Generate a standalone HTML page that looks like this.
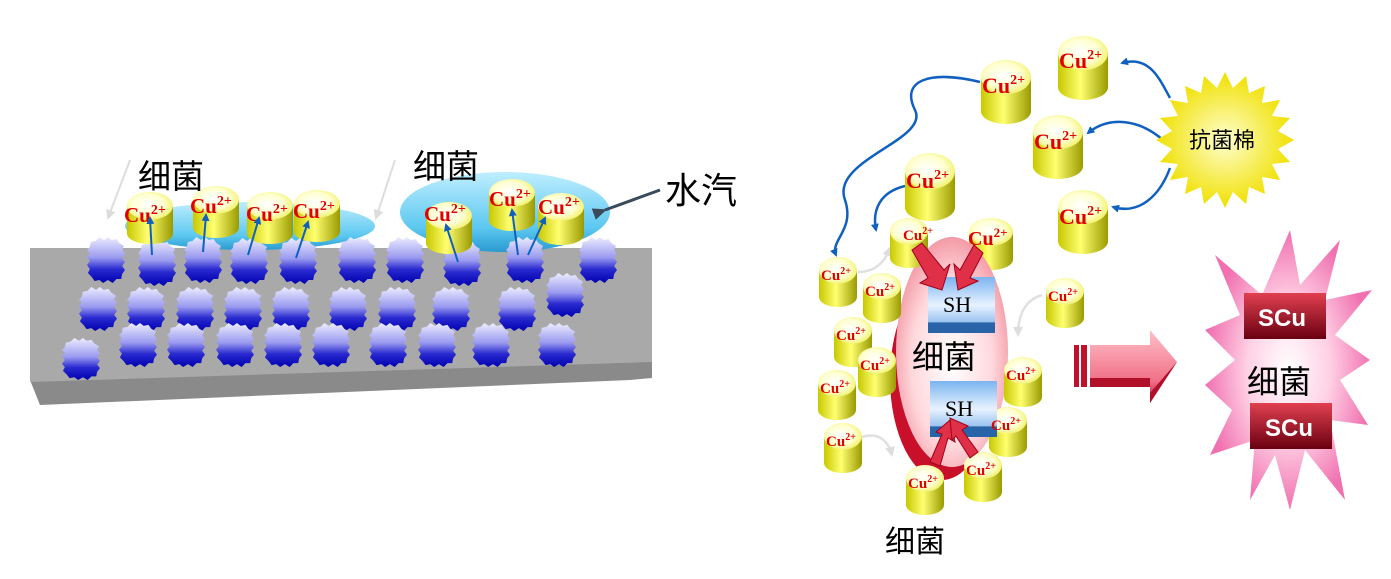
<!DOCTYPE html>
<html><head><meta charset="utf-8"><style>
html,body{margin:0;padding:0;background:#fff;}
svg{display:block;}
.cu{font-family:"Liberation Serif",serif;font-weight:bold;fill:#e00000;}
.cn{font-family:"Liberation Sans","Noto Sans CJK SC",sans-serif;fill:#000;}
</style></head><body>
<svg width="1391" height="579" viewBox="0 0 1391 579" xmlns="http://www.w3.org/2000/svg">
<defs>
<linearGradient id="yb" x1="0" x2="1" y1="0" y2="0">
<stop offset="0" stop-color="#c8c800"/><stop offset="0.45" stop-color="#ffff70"/><stop offset="1" stop-color="#9a9a00"/></linearGradient>
<radialGradient id="yt" cx="0.45" cy="0.45" r="0.6"><stop offset="0" stop-color="#ffffff"/><stop offset="0.6" stop-color="#ffffd0"/><stop offset="1" stop-color="#f0f060"/></radialGradient>
<symbol id="cyl" viewBox="0 0 50 60" preserveAspectRatio="none">
<path d="M0 16 L0 48 A25 12 0 0 0 50 48 L50 16 Z" fill="url(#yb)"/>
<ellipse cx="25" cy="16" rx="25" ry="16" fill="url(#yt)"/>
</symbol>
<linearGradient id="bb" x1="0" x2="0" y1="0" y2="1">
<stop offset="0" stop-color="#ececff"/><stop offset="0.45" stop-color="#9a9af0"/><stop offset="0.7" stop-color="#2a2ad0"/><stop offset="1" stop-color="#0000b0"/></linearGradient>
<symbol id="blu" viewBox="0 0 40 46" preserveAspectRatio="none">
<path d="M3 10 L0 13 L3 16 L0 20 L3 24 L0 28 L3 32 L1 36 L5 40 L8 44 L13 43 L17 46 L22 43 L27 46 L31 42 L36 42 L37 37 L40 33 L37 29 L40 25 L37 21 L40 17 L37 13 L39 9 L34 6 L31 2 L26 3 L22 0 L18 3 L13 0 L9 4 L4 5 Z" fill="url(#bb)"/>
</symbol>
<linearGradient id="wat" x1="0" x2="0" y1="0" y2="1">
<stop offset="0" stop-color="#bfeeff"/><stop offset="0.7" stop-color="#5cc8f0"/><stop offset="1" stop-color="#2a9ad0"/></linearGradient>
<radialGradient id="bac" cx="0.5" cy="0.55" r="0.6"><stop offset="0" stop-color="#ffffff"/><stop offset="0.6" stop-color="#ffd8dc"/><stop offset="1" stop-color="#f08a98"/></radialGradient>
<linearGradient id="sh" x1="0" x2="0" y1="0" y2="1">
<stop offset="0" stop-color="#7ab4f0"/><stop offset="0.5" stop-color="#e8f2ff"/><stop offset="0.8" stop-color="#9cc4f0"/><stop offset="0.82" stop-color="#2a64a8"/><stop offset="1" stop-color="#2a64a8"/></linearGradient>
<radialGradient id="star" cx="0.5" cy="0.5" r="0.5"><stop offset="0" stop-color="#ffffd0"/><stop offset="1" stop-color="#f0e000"/></radialGradient>
<radialGradient id="pink" cx="0.5" cy="0.5" r="0.5"><stop offset="0" stop-color="#ffffff"/><stop offset="0.5" stop-color="#ffd0e4"/><stop offset="1" stop-color="#f070b0"/></radialGradient>
<linearGradient id="arr" x1="0" x2="0" y1="0" y2="1"><stop offset="0" stop-color="#ffc0c8"/><stop offset="0.7" stop-color="#f07088"/><stop offset="1" stop-color="#c0102a"/></linearGradient>
<linearGradient id="scu" x1="0" x2="0" y1="0" y2="1"><stop offset="0" stop-color="#e04050"/><stop offset="1" stop-color="#6a0010"/></linearGradient>
<marker id="ab" markerWidth="8" markerHeight="8" refX="6" refY="4" orient="auto" markerUnits="userSpaceOnUse"><path d="M0 0 L8 4 L0 8 Z" fill="#1060c0"/></marker>
<marker id="ag" markerWidth="10" markerHeight="10" refX="8" refY="5" orient="auto" markerUnits="userSpaceOnUse"><path d="M0 0 L10 5 L0 10 Z" fill="#dddddd"/></marker>
<marker id="ad" markerWidth="14" markerHeight="12" refX="2" refY="6" orient="auto" markerUnits="userSpaceOnUse"><path d="M14 0 L0 6 L14 12 Z" fill="#3a4a5a"/></marker>
</defs>

<polygon points="30,380 652,360 652,378 630,380 40,405" fill="#8a8a8a"/>
<polygon points="30,248 652,248 652,362 30,382" fill="#a9a9a9"/>
<ellipse cx="250" cy="226" rx="125" ry="24" fill="url(#wat)"/>
<ellipse cx="505" cy="212" rx="105" ry="40" fill="url(#wat)"/>

<g>
<use href="#blu" x="87" y="237" width="38" height="46"/><use href="#blu" x="138" y="240" width="38" height="46"/>
<use href="#blu" x="184" y="237" width="38" height="46"/><use href="#blu" x="230" y="238" width="38" height="46"/>
<use href="#blu" x="279" y="238" width="38" height="46"/><use href="#blu" x="338" y="237" width="38" height="46"/>
<use href="#blu" x="386" y="237" width="38" height="46"/><use href="#blu" x="443" y="240" width="38" height="46"/>
<use href="#blu" x="506" y="237" width="38" height="46"/><use href="#blu" x="579" y="237" width="38" height="46"/>
<use href="#blu" x="79" y="287" width="38" height="44"/><use href="#blu" x="127" y="287" width="38" height="44"/>
<use href="#blu" x="176" y="287" width="38" height="44"/><use href="#blu" x="224" y="287" width="38" height="44"/>
<use href="#blu" x="272" y="287" width="38" height="44"/><use href="#blu" x="329" y="287" width="38" height="44"/>
<use href="#blu" x="378" y="287" width="38" height="44"/><use href="#blu" x="432" y="287" width="38" height="44"/>
<use href="#blu" x="498" y="287" width="38" height="44"/><use href="#blu" x="546" y="273" width="38" height="44"/>
<use href="#blu" x="62" y="338" width="38" height="42"/><use href="#blu" x="119" y="323" width="38" height="44"/>
<use href="#blu" x="167" y="323" width="38" height="44"/><use href="#blu" x="216" y="323" width="38" height="44"/>
<use href="#blu" x="264" y="323" width="38" height="44"/><use href="#blu" x="312" y="323" width="38" height="44"/>
<use href="#blu" x="369" y="323" width="38" height="44"/><use href="#blu" x="418" y="323" width="38" height="44"/>
<use href="#blu" x="472" y="323" width="38" height="44"/><use href="#blu" x="538" y="323" width="38" height="44"/>
</g>

<g>
<use href="#cyl" x="127" y="192" width="46" height="52"/>
<use href="#cyl" x="193" y="186" width="46" height="52"/>
<use href="#cyl" x="247" y="192" width="46" height="52"/>
<use href="#cyl" x="294" y="190" width="46" height="52"/>
<use href="#cyl" x="426" y="202" width="46" height="52"/>
<use href="#cyl" x="489" y="179" width="46" height="52"/>
<use href="#cyl" x="538" y="193" width="46" height="52"/>
</g>
<g class="cu" font-size="21">
<text x="124" y="222">Cu<tspan font-size="14" dy="-8">2+</tspan></text>
<text x="190" y="213">Cu<tspan font-size="14" dy="-8">2+</tspan></text>
<text x="246" y="221">Cu<tspan font-size="14" dy="-8">2+</tspan></text>
<text x="293" y="218">Cu<tspan font-size="14" dy="-8">2+</tspan></text>
<text x="424" y="221">Cu<tspan font-size="14" dy="-8">2+</tspan></text>
<text x="489" y="206">Cu<tspan font-size="14" dy="-8">2+</tspan></text>
<text x="538" y="214">Cu<tspan font-size="14" dy="-8">2+</tspan></text>
</g>
<g stroke="#1060c0" stroke-width="2" fill="none" marker-end="url(#ab)">
<line x1="152" y1="255" x2="150" y2="218"/><line x1="203" y1="252" x2="206" y2="215"/>
<line x1="248" y1="255" x2="259" y2="218"/><line x1="296" y1="258" x2="308" y2="222"/>
<line x1="458" y1="262" x2="446" y2="225"/><line x1="518" y1="255" x2="512" y2="210"/>
<line x1="528" y1="255" x2="545" y2="218"/>
</g>
<g stroke="#dddddd" stroke-width="2" fill="none" marker-end="url(#ag)">
<line x1="130" y1="160" x2="108" y2="218"/><line x1="395" y1="160" x2="376" y2="218"/>
</g>
<line x1="660" y1="190" x2="605" y2="210" stroke="#3a4a5a" stroke-width="3" marker-end="url(#ad)"/>
<text class="cn" x="138" y="188" font-size="33">细菌</text>
<text class="cn" x="413" y="178" font-size="33">细菌</text>
<text class="cn" x="665" y="203" font-size="36">水汽</text>

<g stroke="#1060c0" stroke-width="2.5" fill="none" marker-end="url(#ab)">
<path d="M980,82 C930,70 900,80 915,110 C930,140 830,160 845,200 C855,230 830,240 836,255"/>
<path d="M1170,98 C1160,80 1150,55 1122,63"/>
<path d="M1163,140 C1140,120 1110,115 1088,133"/>
<path d="M1170,168 C1160,195 1140,215 1113,207"/>
<path d="M905,186 C880,192 872,210 876,230"/>
</g>
<g stroke="#e0e0e0" stroke-width="2.5" fill="none" marker-end="url(#ag)">
<path d="M858,272 C875,272 885,262 890,248"/>
<path d="M1042,295 C1025,300 1018,315 1018,335"/>
<path d="M862,437 C878,432 888,440 892,455"/>
</g>

<polygon fill="url(#star)" points="1225,72 1233,88 1246,76 1249,93 1265,86 1262,103 1280,100 1272,116 1290,118 1278,131 1294,140 1278,149 1290,162 1272,164 1280,180 1262,177 1265,194 1249,187 1246,204 1233,192 1225,208 1217,192 1204,204 1201,187 1185,194 1188,177 1170,180 1178,164 1160,162 1172,149 1156,140 1172,131 1160,118 1178,116 1170,100 1188,103 1185,86 1201,93 1204,76 1217,88"/>
<text class="cn" x="1189" y="148" font-size="22">抗菌棉</text>

<g>
<use href="#cyl" x="981" y="60" width="50" height="64"/>
<use href="#cyl" x="1058" y="36" width="50" height="64"/>
<use href="#cyl" x="1033" y="115" width="50" height="64"/>
<use href="#cyl" x="1058" y="190" width="50" height="64"/>
<use href="#cyl" x="905" y="153" width="50" height="68"/>
<use href="#cyl" x="969" y="218" width="44" height="52"/>
</g>
<g class="cu" font-size="22">
<text x="982" y="93">Cu<tspan font-size="14" dy="-9">2+</tspan></text>
<text x="1059" y="68">Cu<tspan font-size="14" dy="-9">2+</tspan></text>
<text x="1034" y="149">Cu<tspan font-size="14" dy="-9">2+</tspan></text>
<text x="1059" y="224">Cu<tspan font-size="14" dy="-9">2+</tspan></text>
<text x="906" y="188">Cu<tspan font-size="14" dy="-9">2+</tspan></text>
<text x="968" y="245" font-size="20">Cu<tspan font-size="13" dy="-8">2+</tspan></text>
</g>

<ellipse cx="942" cy="378" rx="52" ry="102" fill="#c8102a"/>
<ellipse cx="952" cy="352" rx="56" ry="115" fill="url(#bac)"/>

<g>
<use href="#cyl" x="890" y="218" width="38" height="50"/>
<use href="#cyl" x="819" y="257" width="38" height="50"/>
<use href="#cyl" x="863" y="273" width="38" height="50"/>
<use href="#cyl" x="834" y="317" width="38" height="50"/>
<use href="#cyl" x="858" y="347" width="38" height="50"/>
<use href="#cyl" x="818" y="370" width="38" height="50"/>
<use href="#cyl" x="824" y="423" width="38" height="50"/>
<use href="#cyl" x="1046" y="278" width="38" height="50"/>
<use href="#cyl" x="1004" y="357" width="38" height="50"/>
<use href="#cyl" x="989" y="407" width="38" height="50"/>
<use href="#cyl" x="964" y="452" width="38" height="50"/>
<use href="#cyl" x="906" y="465" width="38" height="50"/>
</g>

<rect x="928" y="277" width="67" height="56" fill="url(#sh)"/>
<rect x="930" y="381" width="67" height="56" fill="url(#sh)"/>
<text x="943" y="312" font-family="Liberation Serif,serif" font-size="22" fill="#000">SH</text>
<text x="945" y="416" font-family="Liberation Serif,serif" font-size="22" fill="#000">SH</text>

<g fill="#e03048" stroke="#a00018" stroke-width="1">
<polygon points="912,250 922,243 944,270 950,264 942,290 920,283 928,278"/>
<polygon points="983,253 974,245 960,270 954,264 958,290 978,281 970,278"/>
<polygon points="930,462 940,466 948,438 955,442 950,420 936,432 942,434"/>
<polygon points="970,458 978,452 962,430 968,426 950,418 952,440 956,436"/>
</g>

<text class="cn" x="912" y="368" font-size="32">细菌</text>
<text class="cn" x="885" y="552" font-size="30">细菌</text>

<g class="cu" font-size="15">
<text x="903" y="240">Cu<tspan font-size="10" dy="-6">2+</tspan></text>
<text x="821" y="280">Cu<tspan font-size="10" dy="-6">2+</tspan></text>
<text x="865" y="296">Cu<tspan font-size="10" dy="-6">2+</tspan></text>
<text x="836" y="340">Cu<tspan font-size="10" dy="-6">2+</tspan></text>
<text x="860" y="370">Cu<tspan font-size="10" dy="-6">2+</tspan></text>
<text x="820" y="393">Cu<tspan font-size="10" dy="-6">2+</tspan></text>
<text x="826" y="446">Cu<tspan font-size="10" dy="-6">2+</tspan></text>
<text x="1048" y="301">Cu<tspan font-size="10" dy="-6">2+</tspan></text>
<text x="1006" y="380">Cu<tspan font-size="10" dy="-6">2+</tspan></text>
<text x="991" y="430">Cu<tspan font-size="10" dy="-6">2+</tspan></text>
<text x="966" y="475">Cu<tspan font-size="10" dy="-6">2+</tspan></text>
<text x="908" y="488">Cu<tspan font-size="10" dy="-6">2+</tspan></text>
</g>

<rect x="1074" y="345" width="5" height="42" fill="#c0102a"/>
<rect x="1081" y="345" width="6" height="42" fill="#c0102a"/>
<polygon points="1090,345 1150,345 1150,330 1177,362 1150,403 1150,387 1090,387" fill="url(#arr)"/>
<polygon points="1090,378 1150,378 1150,403 1177,362 1170,370 1150,393 1150,387 1090,387" fill="#b0102a"/>

<polygon fill="url(#pink)" points="1290,230 1300,285 1340,240 1325,300 1372,290 1335,335 1370,360 1340,380 1368,425 1330,420 1345,500 1305,450 1290,510 1275,455 1250,500 1255,440 1210,455 1232,410 1205,385 1235,360 1205,330 1240,315 1215,255 1262,295"/>
<rect x="1244" y="293" width="82" height="46" fill="url(#scu)"/>
<rect x="1250" y="403" width="82" height="46" fill="url(#scu)"/>
<text x="1258" y="326" font-family="Liberation Sans,sans-serif" font-weight="bold" font-size="24" fill="#fff">SCu</text>
<text x="1265" y="436" font-family="Liberation Sans,sans-serif" font-weight="bold" font-size="24" fill="#fff">SCu</text>
<text class="cn" x="1247" y="393" font-size="32">细菌</text>
</svg>
</body></html>
